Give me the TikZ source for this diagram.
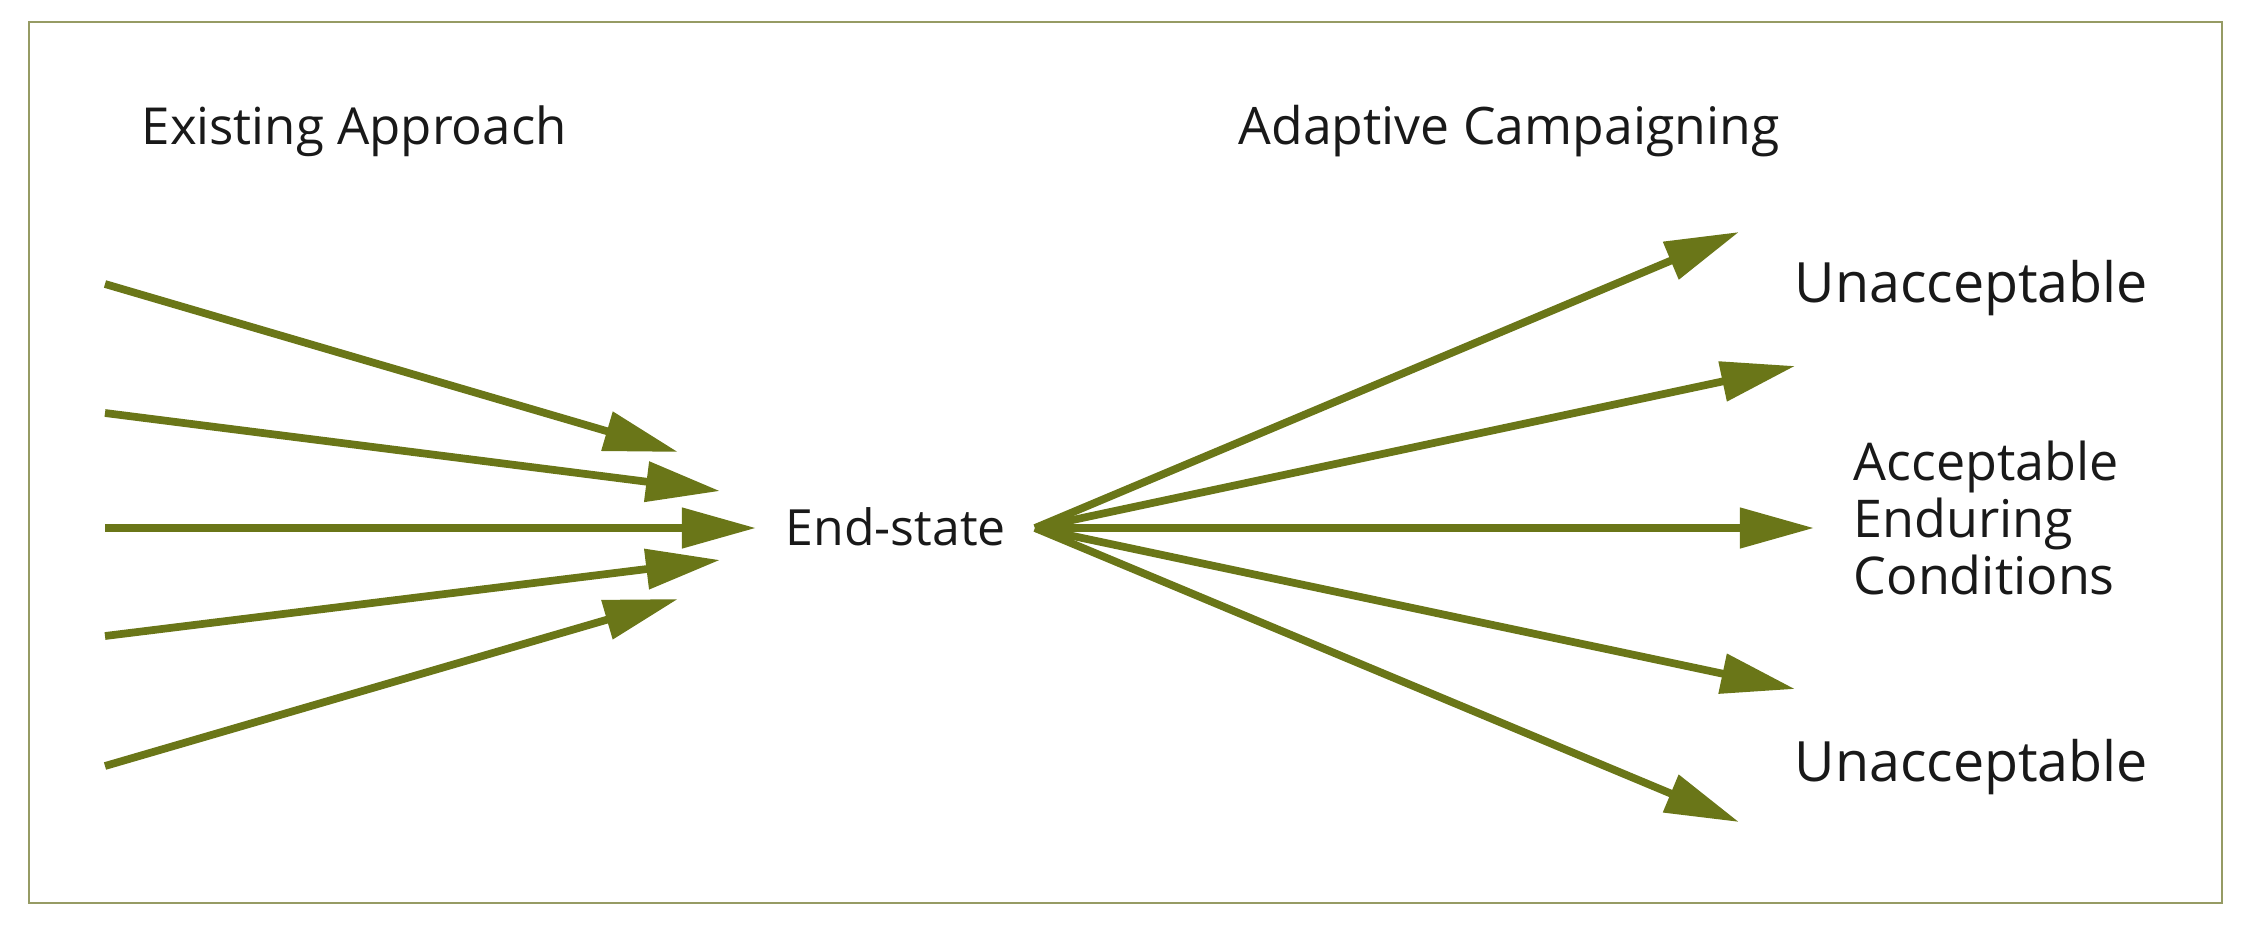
\documentclass[tikz,border=0pt]{standalone}
\usepackage{fontspec}
\setmainfont{Open Sans}
\usetikzlibrary{arrows.meta}
\definecolor{olive}{RGB}{106,118,24}
\definecolor{framec}{RGB}{150,155,100}
\tikzset{
  arr/.style={draw=olive, line width=2.2pt, -{Triangle[length=0.74cm,width=0.39cm]}},
  lbl/.style={inner sep=0pt, anchor=west, text=black!90},
}
\begin{document}
\begin{tikzpicture}[x=0.01cm,y=-0.01cm]
\useasboundingbox (0,0) rectangle (2258,933);
\draw[framec, line width=0.5pt] (29,22) rectangle (2222,903);
% titles
\node[lbl, font=\fontsize{14.5}{17}\selectfont] (t1) at (141,131) {Existing Approach};
\node[lbl, font=\fontsize{14.7}{17}\selectfont] (t2) at (1238,131) {Adaptive Campaigning};
\node[lbl, font=\fontsize{14.2}{17}\selectfont] (es) at (785,527) {End-state};
\node[lbl, font=\fontsize{15.8}{18}\selectfont] (u1) at (1794,288) {Unacceptable};
\node[lbl, font=\fontsize{14.8}{16.2}\selectfont, align=left] (ac) at (1853,518) {Acceptable\\Enduring\\Conditions};
\node[lbl, font=\fontsize{15.8}{18}\selectfont] (u2) at (1794,767) {Unacceptable};
% left arrows
\coordinate (s1) at (105,284); \coordinate (e1) at (678,452);
\coordinate (s2) at (105,413); \coordinate (e2) at (720,491);
\coordinate (s3) at (105,528); \coordinate (e3) at (756,528);
\coordinate (s4) at (105,636); \coordinate (e4) at (720,560);
\coordinate (s5) at (105,766); \coordinate (e5) at (678,599);
\foreach \i in {1,...,5} \draw[arr] (s\i) -- (e\i);
% right arrows
\coordinate (hub) at (1035,528);
\coordinate (r1) at (1739,232);
\coordinate (r2) at (1795,366);
\coordinate (r3) at (1814,528);
\coordinate (r4) at (1795,689);
\coordinate (r5) at (1739,822);
\foreach \i in {1,...,5} \draw[arr] (hub) -- (r\i);
\end{tikzpicture}
\end{document}
